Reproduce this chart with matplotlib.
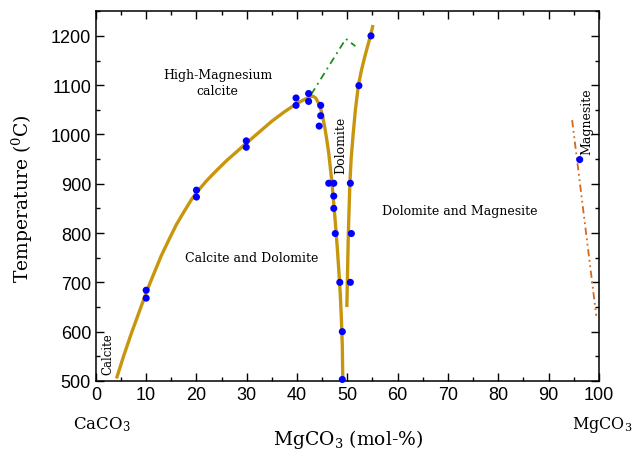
import matplotlib
matplotlib.use('Agg')
import matplotlib.pyplot as plt
from matplotlib.ticker import MultipleLocator

plt.rcParams['mathtext.fontset'] = 'dejavuserif'

# calcite solvus / calcite-dolomite boundary
solvus_x = [4.1, 5.5, 7.0, 8.5, 10.0, 11.5, 13.0, 14.5, 16.0, 17.5, 19.0, 20.0, 21.0,
            22.0, 24.0, 26.0, 28.0, 30.0, 32.5, 35.0, 37.5, 40.0, 41.0, 42.0, 42.7,
            43.2, 43.7, 44.2, 44.7, 45.1, 45.5, 45.9, 46.3, 46.7, 47.0, 47.3, 47.7,
            48.0, 48.3, 48.6, 48.8, 49.0, 49.1]
solvus_y = [505, 550, 595, 637, 679, 717, 754, 786, 817, 843, 868, 882, 894,
            906, 927, 947, 965, 983, 1005, 1027, 1046, 1063, 1068.5, 1073.5, 1076.5,
            1077.5, 1074, 1065, 1052, 1036, 1015, 990, 962, 925, 895, 860, 810,
            770, 725, 675, 630, 570, 500]

# dolomite-magnesite boundary
dolo_x = [49.9, 50.0, 50.1, 50.2, 50.35, 50.5, 50.75, 51.15, 51.6, 52.2, 52.8, 53.4,
          54.0, 54.6, 55.1]
dolo_y = [650, 700, 750, 800, 850, 900, 950, 1000, 1050, 1100, 1130, 1155,
          1178, 1200, 1222]

# dashed green extrapolation
green_x = [42.8, 49.7, 51.6]
green_y = [1081, 1194, 1179]

# magnesite solvus (dash-dot-dot)
mag_x = [94.7, 99.5]
mag_y = [1029, 632]

# experimental points
pts_x = [10, 10, 20, 20, 29.9, 29.9, 39.8, 39.8, 42.3, 42.3, 44.7, 44.7, 44.4,
         46.3, 47.3, 47.3, 47.3, 47.6, 48.5, 49.0, 49.0,
         50.6, 50.8, 50.6, 52.3, 54.7, 96.2]
pts_y = [684, 668, 887, 873, 987, 974, 1074, 1059, 1083, 1067, 1059, 1038, 1017,
         901, 901, 875, 850, 799, 700, 600, 503,
         901, 799, 700, 1099, 1200, 949]

serif = 'DejaVu Serif'
gold = '#C8960C'

fig = plt.figure(figsize=(6.35, 4.52), dpi=100)
ax = fig.add_axes([0.151, 0.155, 0.792, 0.818])

ax.plot(solvus_x, solvus_y, color=gold, lw=2.4, zorder=2, solid_capstyle='butt')
ax.plot(dolo_x, dolo_y, color=gold, lw=2.4, zorder=2, solid_capstyle='butt')
ax.plot(green_x, green_y, color='#1E8C1E', lw=1.3, dashes=(4, 2.5, 1, 2.5), zorder=2)
ax.plot(mag_x, mag_y, color='#D2691E', lw=1.3, dashes=(4, 2, 1, 2, 1, 2), zorder=2)
ax.scatter(pts_x, pts_y, s=26, color='#0000FF', edgecolor='none', zorder=3, clip_on=False)

ax.set_xlim(0, 100)
ax.set_ylim(500, 1250)

ax.xaxis.set_major_locator(MultipleLocator(10))
ax.xaxis.set_minor_locator(MultipleLocator(5))
ax.yaxis.set_major_locator(MultipleLocator(100))
ax.yaxis.set_minor_locator(MultipleLocator(50))
ax.set_yticks(range(500, 1201, 100))

ax.tick_params(axis='both', which='both', direction='in', top=True, right=True,
               width=1.0, labelsize=13)
ax.tick_params(which='major', length=6)
ax.tick_params(which='minor', length=3)
for lab in ax.get_xticklabels() + ax.get_yticklabels():
    lab.set_family('Liberation Sans')
for sp in ax.spines.values():
    sp.set_linewidth(1.1)

# axis titles and end-member labels
fig.text(0.036, 0.56, r'Temperature ($^{0}$C)', family=serif, fontsize=13.5,
         rotation=90, ha='center', va='center')
fig.text(0.548, 0.027, r'MgCO$_3$ (mol-%)', family=serif, fontsize=13.5, ha='center', va='center')
fig.text(0.16, 0.06, r'CaCO$_3$', family=serif, fontsize=12, ha='center', va='center')
fig.text(0.948, 0.06, r'MgCO$_3$', family=serif, fontsize=11.5, ha='center', va='center')

# phase field labels
ax.text(24.2, 1105, 'High-Magnesium\ncalcite', family=serif, fontsize=9,
        ha='center', va='center', linespacing=1.35)
ax.text(48.7, 980, 'Dolomite', family=serif, fontsize=9, rotation=90, ha='center', va='center')
ax.text(72.4, 846, 'Dolomite and Magnesite', family=serif, fontsize=9, ha='center', va='center')
ax.text(31, 751, 'Calcite and Dolomite', family=serif, fontsize=9, ha='center', va='center')
ax.text(2.4, 557, 'Calcite', family=serif, fontsize=8.5, rotation=90, ha='center', va='center')
ax.text(97.6, 1027, 'Magnesite', family=serif, fontsize=9, rotation=90, ha='center', va='center')

fig.savefig('out.png', dpi=100)
